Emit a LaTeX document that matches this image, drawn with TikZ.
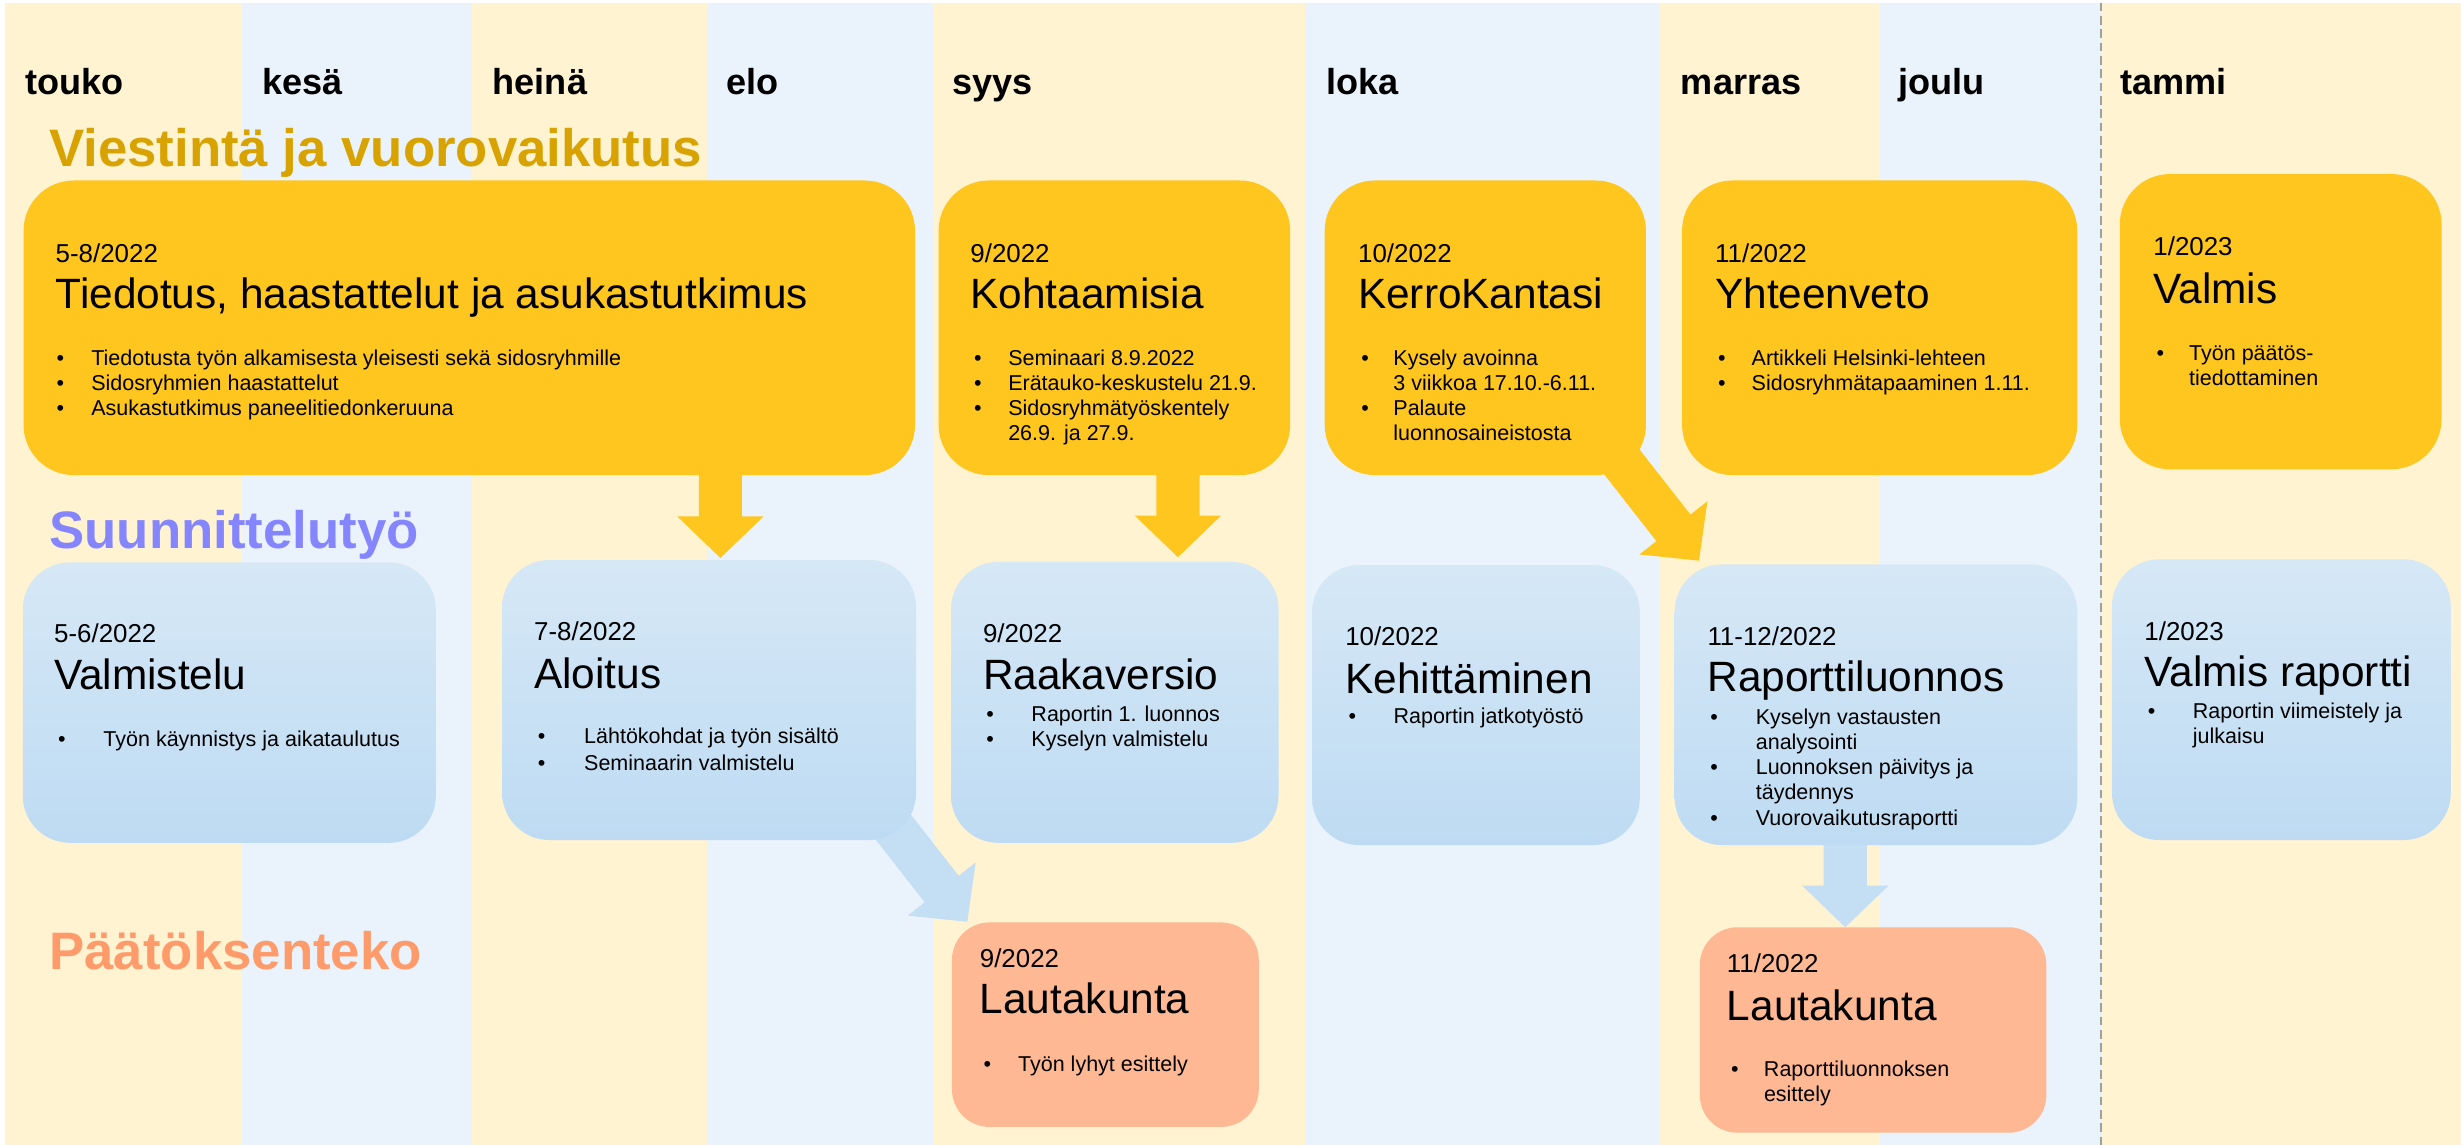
\documentclass[tikz,border=0pt]{standalone}
\usepackage{fontspec}
\setmainfont{Liberation Sans}
\usetikzlibrary{calc}
\definecolor{stripeY}{HTML}{FFF3D2}
\definecolor{stripeB}{HTML}{EAF3FB}
\definecolor{gold}{HTML}{FFC620}
\definecolor{blueTop}{HTML}{D6E8F6}
\definecolor{blueBot}{HTML}{BEDBF3}
\definecolor{blueArrow}{HTML}{C4DFF4}
\definecolor{salmon}{HTML}{FFB894}
\definecolor{viestC}{HTML}{D8A300}
\definecolor{suunC}{HTML}{8585FF}
\definecolor{paatC}{HTML}{FF9B6A}
\definecolor{dashC}{HTML}{A0A0A0}
\newcommand\bitems[2]{\begin{tabular}[t]{@{}p{#1pt}@{}l@{}}#2\end{tabular}}
\newcommand\blockarr[3]{%
  \coordinate (#1h) at ($(#2)!26.5pt!(#1)$);
  \fill[#3] ($(#1)!13.75pt!90:(#2)$) -- ($(#1h)!13.75pt!90:(#2)$) -- ($(#1h)!27.5pt!90:(#2)$) -- (#2)
    -- ($(#1h)!27.5pt!-90:(#2)$) -- ($(#1h)!13.75pt!-90:(#2)$) -- ($(#1)!13.75pt!-90:(#2)$) -- cycle;}
\tikzset{
  box/.style={rectangle, draw=none, inner sep=0pt, outer sep=0pt},
  ybox/.style={box, fill=gold, rounded corners=32pt},
  bbox/.style={box, top color=blueTop, bottom color=blueBot, rounded corners=30pt},
  sbox/.style={box, fill=salmon, rounded corners=24pt},
  txt/.style={anchor=base west, inner sep=0pt, outer sep=0pt},
  month/.style={txt, font=\fontsize{23}{27}\selectfont\bfseries},
  sect/.style={txt, font=\fontsize{33.6}{40}\selectfont\bfseries},
  dt/.style={txt, font=\fontsize{16.5}{20}\selectfont},
  ttl/.style={txt, font=\fontsize{27}{32}\selectfont},
  bl/.style={txt, font=\fontsize{13.7}{16.1}\selectfont},
}
\begin{document}
\begin{tikzpicture}[x=1pt,y=-1pt]
\useasboundingbox (0,0) rectangle (1568,729.5);
\fill[white] (0,0) rectangle (1568,729.5);
% month stripes
\fill[stripeY] (3,1.7) rectangle (154,729.5);
\fill[stripeB] (154,1.7) rectangle (301,729.5);
\fill[stripeY] (301,1.7) rectangle (450.7,729.5);
\fill[stripeB] (450.7,1.7) rectangle (594.3,729.5);
\fill[stripeY] (594.3,1.7) rectangle (831.2,729.5);
\fill[stripeB] (831.2,1.7) rectangle (1057.8,729.5);
\fill[stripeY] (1057.8,1.7) rectangle (1198,729.5);
\fill[stripeB] (1198,1.7) rectangle (1338.7,729.5);
\fill[stripeY] (1338.7,1.7) rectangle (1568,729.5);
\draw[dashC, line width=1.2pt, dash pattern=on 5.5pt off 3pt] (1338.7,1.7) -- (1338.7,729.5);
% months
\node[month] (m1) at (16,60) {touko};
\node[month] (m2) at (167,60) {kesä};
\node[month] (m3) at (314,60) {heinä};
\node[month] (m4) at (463,60) {elo};
\node[month] (m5) at (607,60) {syys};
\node[month] (m6) at (845,60) {loka};
\node[month] (m7) at (1071,60) {marras};
\node[month] (m8) at (1209.5,60) {joulu};
\node[month] (m9) at (1351,60) {tammi};
% section titles
\node[sect, text=viestC] (h1) at (31.5,106.3) {Viestintä ja vuorovaikutus};
\node[sect, text=suunC] (h2) at (31.5,349.4) {Suunnittelutyö};
\node[sect, text=paatC] (h3) at (31.5,617.4) {Päätöksenteko};
% arrow end points
\coordinate (a1s) at (459,290);    \coordinate (a1t) at (459,355.5);
\coordinate (a2s) at (750.5,290);  \coordinate (a2t) at (750.5,355);
\coordinate (a3s) at (1020.9,278.4); \coordinate (a3t) at (1082.5,357.2);
\coordinate (a4s) at (554.7,508.5); \coordinate (a4t) at (616.3,587.3);
\coordinate (a5s) at (1175.7,525); \coordinate (a5t) at (1175.7,590.8);
\blockarr{a1s}{a1t}{gold}
\blockarr{a2s}{a2t}{gold}
\blockarr{a3s}{a3t}{gold}
\blockarr{a4s}{a4t}{blueArrow}
\blockarr{a5s}{a5t}{blueArrow}
% yellow row
\node[ybox, minimum width=568pt, minimum height=187.7pt] (y1) at (299,208.85) {};
\node[ybox, minimum width=224pt, minimum height=187.7pt] (y2) at (710,208.85) {};
\node[ybox, minimum width=204.7pt, minimum height=187.7pt] (y3) at (946.35,208.85) {};
\node[ybox, minimum width=251.8pt, minimum height=187.7pt] (y4) at (1197.6,208.85) {};
\node[ybox, minimum width=205pt, minimum height=188.1pt] (y5) at (1453.1,204.95) {};
% blue row
\node[bbox, minimum width=263.2pt, minimum height=178.7pt] (b1) at (146.1,447.65) {};
\node[bbox, minimum width=263.7pt, minimum height=178.4pt] (b2) at (451.85,446) {};
\node[bbox, minimum width=208.6pt, minimum height=179pt] (b3) at (710.3,447.5) {};
\node[bbox, minimum width=208.8pt, minimum height=178.4pt] (b4) at (940.4,449.2) {};
\node[bbox, minimum width=256.5pt, minimum height=178.8pt] (b5) at (1195.25,449) {};
\node[bbox, minimum width=215.9pt, minimum height=178.8pt] (b6) at (1453.55,445.8) {};
% salmon row
\node[sbox, minimum width=195.5pt, minimum height=130.3pt] (s1) at (704.25,652.85) {};
\node[sbox, minimum width=220.8pt, minimum height=130.9pt] (s2) at (1193.4,656.25) {};
% texts yellow
\node[dt] (y1d) at (35.5,167) {5-8/2022};
\node[ttl] (y1t) at (35.5,196.5) {Tiedotus, haastattelut ja asukastutkimus};
\node[bl] (y1b) at (36,232.6) {\bitems{22.2}{\textbullet & Tiedotusta työn alkamisesta yleisesti sekä sidosryhmille\\ \textbullet & Sidosryhmien haastattelut\\ \textbullet & Asukastutkimus paneelitiedonkeruuna}};
\node[dt] (y2d) at (618.3,167) {9/2022};
\node[ttl] (y2t) at (618.3,196.5) {Kohtaamisia};
\node[bl] (y2b) at (620.7,232.6) {\bitems{21.7}{\textbullet & Seminaari 8.9.2022\\ \textbullet & Erätauko-keskustelu 21.9.\\ \textbullet & Sidosryhmätyöskentely\\ & 26.9. ja 27.9.}};
\node[dt] (y3d) at (865.3,167) {10/2022};
\node[ttl] (y3t) at (865.3,196.5) {KerroKantasi};
\node[bl] (y3b) at (867.3,232.6) {\bitems{20.5}{\textbullet & Kysely avoinna\\ & 3 viikkoa 17.10.-6.11.\\ \textbullet & Palaute\\ & luonnosaineistosta}};
\node[dt] (y4d) at (1092.8,167) {11/2022};
\node[ttl] (y4t) at (1092.8,196.5) {Yhteenveto};
\node[bl] (y4b) at (1094.7,232.6) {\bitems{21.4}{\textbullet & Artikkeli Helsinki-lehteen\\ \textbullet & Sidosryhmätapaaminen 1.11.}};
\node[dt] (y5d) at (1372,163) {1/2023};
\node[ttl] (y5t) at (1372,193.3) {Valmis};
\node[bl] (y5b) at (1374,229.4) {\bitems{20.8}{\textbullet & Työn päätös-\\ & tiedottaminen}};
% texts blue
\node[dt] (b1d) at (34.5,409.3) {5-6/2022};
\node[ttl] (b1t) at (34.5,439.6) {Valmistelu};
\node[bl] (b1b) at (37.1,475.7) {\bitems{28.8}{\textbullet & Työn käynnistys ja aikataulutus}};
\node[dt] (b2d) at (340.3,407.8) {7-8/2022};
\node[ttl] (b2t) at (340.3,438.6) {Aloitus};
\node[bl] (b2b) at (342.7,474) {\bitems{29.5}{\textbullet & Lähtökohdat ja työn sisältö\\[0.5pt] \textbullet & Seminaarin valmistelu}};
\node[dt] (b3d) at (626.3,409.3) {9/2022};
\node[ttl] (b3t) at (626.3,439.6) {Raakaversio};
\node[bl] (b3b) at (628.4,459.8) {\bitems{28.8}{\textbullet & Raportin 1. luonnos\\ \textbullet & Kyselyn valmistelu}};
\node[dt] (b4d) at (857.1,411.4) {10/2022};
\node[ttl] (b4t) at (857.1,441.8) {Kehittäminen};
\node[bl] (b4b) at (859.3,460.9) {\bitems{28.6}{\textbullet & Raportin jatkotyöstö}};
\node[dt] (b5d) at (1087.9,411.4) {11-12/2022};
\node[ttl] (b5t) at (1087.9,440.7) {Raporttiluonnos};
\node[bl] (b5b) at (1089.7,461.3) {\bitems{29}{\textbullet & Kyselyn vastausten\\ & analysointi\\ \textbullet & Luonnoksen päivitys ja\\ & täydennys\\ \textbullet & Vuorovaikutusraportti}};
\node[dt] (b6d) at (1366.3,407.8) {1/2023};
\node[ttl] (b6t) at (1366.3,437.5) {Valmis raportti};
\node[bl] (b6b) at (1368.4,457.7) {\bitems{28.8}{\textbullet & Raportin viimeistely ja\\ & julkaisu}};
% texts salmon
\node[dt] (s1d) at (624.3,616.3) {9/2022};
\node[ttl] (s1t) at (624.3,646) {Lautakunta};
\node[bl] (s1b) at (626.7,682.8) {\bitems{22}{\textbullet & Työn lyhyt esittely}};
\node[dt] (s2d) at (1100.3,619.7) {11/2022};
\node[ttl] (s2t) at (1100.3,650) {Lautakunta};
\node[bl] (s2b) at (1103,686) {\bitems{20.9}{\textbullet & Raporttiluonnoksen\\ & esittely}};
\end{tikzpicture}
\end{document}
